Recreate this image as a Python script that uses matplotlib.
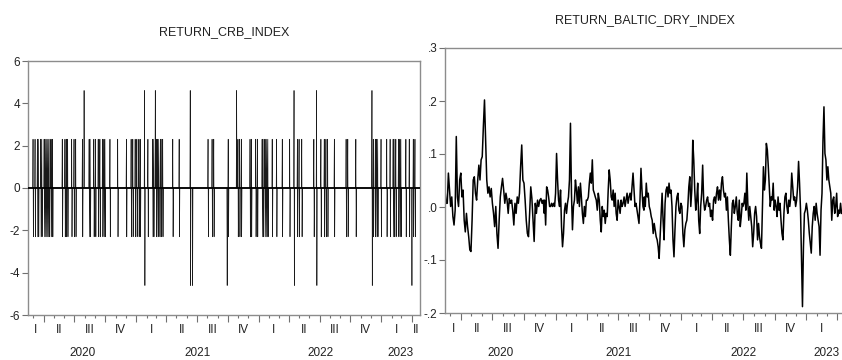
import numpy as np
import pandas as pd
import matplotlib
matplotlib.use("Agg")
import matplotlib.pyplot as plt
import matplotlib.dates as mdates

plt.rcParams['font.family'] = ['Liberation Sans', 'DejaVu Sans']

# ---- data -------------------------------------------------------------
start = pd.Timestamp("2020-02-14")
end = pd.Timestamp("2023-04-26")

# RETURN_CRB_INDEX: flat at 0 with jumps (days counted from start)
crb_pair_days = [15, 21, 28, 31, 38, 41, 48, 51, 54, 57, 60, 63, 68, 71, 73,
                 102, 110, 114, 118, 130, 137, 142, 162, 182, 185, 196, 201,
                 209, 214, 222, 226, 229, 244, 267, 293, 307, 312, 319, 324,
                 330, 334, 357, 371, 374, 382, 386, 389, 394, 397, 401, 431,
                 450, 536, 548, 553, 596, 625, 630, 635, 661, 665, 678, 683,
                 697, 700, 705, 708, 711, 714, 727, 740, 757, 779, 802, 807,
                 815, 851, 872, 882, 887, 892, 912, 947, 952, 976, 1028, 1034,
                 1038, 1041, 1051, 1068, 1078, 1087, 1090, 1095, 1103, 1107,
                 1110, 1125, 1135, 1147, 1152]
crb_big_pair_days = [347, 483, 792, 859, 1024]
crb_big_up_days = [167, 379, 621]
crb_big_down_days = [490, 593, 1143]
crb_small = 2.303
crb_big = 4.605

# RETURN_BALTIC_DRY_INDEX, read in four stretches
baltic_seg_dates = [("2020-02-14", "2020-11-29"), ("2020-11-30", "2021-09-15"),
                    ("2021-09-16", "2022-06-28"), ("2022-06-30", "2023-04-13")]
baltic_seg1 = [0.032, 0.007, 0.007, 0.064, 0.032, 0.001, 0.019, -0.018, -0.034,
               -0.006, 0.133, 0.019, 0.001, 0.051, 0.064, 0.019, 0.032, -0.025,
               -0.047, -0.012, -0.037, -0.056, -0.081, -0.084, -0.025, 0.051,
               0.057, 0.026, 0.013, 0.051, 0.079, 0.051, 0.089, 0.095, 0.152,
               0.202, 0.126, 0.051, 0.026, 0.038, 0.019, 0.035, 0.007, -0.012,
               -0.037, 0.001, -0.050, -0.078, -0.025, 0.019, 0.038, 0.054,
               0.032, 0.007, 0.026, 0.013, -0.012, 0.016, 0.007, 0.013, -0.006,
               -0.034, 0.007, -0.012, 0.019, 0.007, 0.026, 0.076, 0.117, 0.051,
               0.045, 0.013, -0.025, -0.050, -0.056, -0.012, 0.038, 0.016,
               -0.025, -0.065, 0.007, -0.012, 0.013, 0.001, 0.013, 0.016,
               0.007, 0.013, -0.012]
baltic_seg2 = [0.013, -0.034, 0.038, 0.032, 0.019, 0.001, 0.001, 0.007, 0.001,
               0.007, 0.001, 0.026, 0.101, 0.051, 0.013, 0.001, 0.032, -0.037,
               -0.075, -0.050, -0.006, 0.007, -0.012, 0.007, 0.019, 0.051,
               0.158, 0.026, -0.043, 0.001, 0.013, 0.051, 0.032, 0.007, 0.038,
               0.001, 0.045, 0.019, -0.012, -0.031, 0.001, -0.018, 0.013, 0.013,
               0.019, 0.045, 0.064, 0.045, 0.089, 0.032, 0.026, 0.019, 0.013,
               -0.006, 0.026, 0.013, -0.025, -0.047, 0.001, -0.018, -0.006,
               -0.031, -0.012, -0.018, 0.032, 0.070, 0.051, 0.019, 0.013, 0.032,
               0.001, 0.026, -0.012, -0.025, 0.013, 0.001, -0.012, 0.013, 0.001,
               0.007, 0.019, 0.001, 0.013, 0.026, 0.007, 0.019, 0.026, 0.013,
               0.038, 0.064, 0.032, 0.001, 0.007, -0.006, -0.018, -0.031, 0.013,
               0.073, 0.032, 0.001, -0.006]
baltic_seg3 = [0.019, 0.001, 0.045, 0.019, 0.026, 0.001, -0.006, -0.018, -0.025,
               -0.050, -0.031, -0.043, -0.056, -0.062, -0.075, -0.097, -0.056,
               -0.012, 0.026, -0.025, -0.062, 0.007, 0.032, 0.038, 0.019, 0.045,
               0.026, 0.032, 0.001, -0.062, -0.094, -0.043, 0.001, 0.019, 0.026,
               -0.006, -0.012, 0.007, 0.001, -0.050, -0.075, -0.043, -0.031,
               -0.025, 0.001, 0.038, 0.057, 0.001, 0.032, 0.126, 0.089, 0.032,
               -0.006, 0.013, 0.045, -0.025, -0.050, 0.001, 0.026, 0.079, 0.013,
               -0.006, 0.001, 0.013, 0.019, 0.001, 0.007, -0.018, -0.006, -0.025,
               0.013, 0.019, 0.007, 0.026, 0.038, 0.013, 0.032, 0.013, 0.045,
               0.057, 0.032, 0.019, 0.026, -0.006, 0.019, -0.025, -0.062, -0.091,
               -0.037, 0.007, 0.013, -0.012, 0.001, 0.019, -0.012, -0.025, 0.013,
               -0.037, -0.018, 0.007]
baltic_seg4 = [0.001, 0.007, 0.026, -0.006, 0.064, 0.007, -0.025, 0.001, -0.018,
               -0.037, -0.075, -0.050, -0.012, 0.001, -0.018, -0.062, -0.031,
               -0.056, -0.069, -0.078, 0.001, 0.076, 0.032, 0.051, 0.120, 0.108,
               0.076, 0.038, 0.001, 0.019, 0.013, 0.045, -0.006, 0.013, 0.001,
               -0.018, 0.019, -0.006, 0.007, -0.025, -0.050, -0.062, -0.012,
               0.019, 0.026, 0.001, -0.012, 0.013, 0.001, 0.019, 0.064, 0.038,
               0.013, 0.019, 0.001, 0.013, 0.038, 0.086, 0.045, -0.006, -0.100,
               -0.188, -0.075, -0.012, -0.006, 0.007, -0.006, -0.025, -0.050,
               -0.069, -0.087, -0.037, -0.012, 0.001, -0.025, 0.007, -0.012,
               -0.025, -0.037, -0.091, -0.006, 0.026, 0.126, 0.189, 0.101, 0.089,
               0.051, 0.076, 0.051, 0.038, 0.026, -0.025, 0.013, 0.019, -0.012,
               0.001, 0.026, -0.018, -0.006, -0.012, 0.007, -0.012]

crb_yticks = [-6, -4, -2, 0, 2, 4, 6]
crb_ylabels = ["-6", "-4", "-2", "0", "2", "4", "6"]
baltic_yticks = [-0.2, -0.1, 0.0, 0.1, 0.2, 0.3]
baltic_ylabels = ["-.2", "-.1", ".0", ".1", ".2", ".3"]
quarter_names = ["I", "II", "III", "IV"]

# ---- build series -----------------------------------------------------
crb = pd.Series(0.0, index=pd.date_range(start, end, freq="D"))
for d in crb_pair_days:
    crb.iloc[d] = crb_small
    crb.iloc[d + 1] = -crb_small
for d in crb_big_pair_days:
    crb.iloc[d] = crb_big
    crb.iloc[d + 1] = -crb_big
for d in crb_big_up_days:
    crb.iloc[d] = crb_big
for d in crb_big_down_days:
    crb.iloc[d] = -crb_big

baltic_parts = []
for (a, b), vals in zip(baltic_seg_dates, [baltic_seg1, baltic_seg2, baltic_seg3, baltic_seg4]):
    idx = pd.date_range(a, b, periods=len(vals))
    baltic_parts.append(pd.Series(vals, index=idx))
baltic = pd.concat(baltic_parts)

# ---- plotting ---------------------------------------------------------
W, H = 842, 360
fig = plt.figure(figsize=(W / 100, H / 100), dpi=100)

ax1 = fig.add_axes([28 / W, 1 - 315 / H, (420 - 28) / W, (315 - 61) / H])
ax2 = fig.add_axes([445 / W, 1 - 313 / H, (846 - 445) / W, (313 - 48) / H])

ax1.plot(crb.index, crb.values, color="#1a1a1a", lw=0.5)
ax1.axhline(0, color="black", lw=1.3, zorder=3)
ax2.plot(baltic.index, baltic.values, color="black", lw=1.1)

ax1.set_ylim(-6, 6)
ax1.set_yticks(crb_yticks)
ax1.set_yticklabels(crb_ylabels)
ax2.set_ylim(-0.2, 0.3)
ax2.set_yticks(baltic_yticks)
ax2.set_yticklabels(baltic_ylabels)


def style_axis(ax, label_until, qdy, ydy):
    ax.set_xlim(start, end)
    for s in ax.spines.values():
        s.set_color("#8c8c8c")
        s.set_linewidth(1.0)
    ax.xaxis.set_major_locator(mdates.MonthLocator(bymonth=[1, 4, 7, 10]))
    ax.xaxis.set_minor_locator(mdates.MonthLocator())
    ax.xaxis.set_major_formatter(plt.NullFormatter())
    ax.tick_params(axis="x", which="major", length=5, width=0.8, color="#707070")
    ax.tick_params(axis="x", which="minor", length=2.5, width=0.8, color="#707070")
    ax.tick_params(axis="y", length=4, width=0.8, color="#707070", pad=1.5,
                   labelsize=8.5, labelcolor="#222222")
    x0, x1 = mdates.date2num(start), mdates.date2num(end)
    # quarter labels
    for q in pd.date_range("2020-01-01", "2023-04-01", freq="QS"):
        qa = max(mdates.date2num(q), x0)
        qb = min(mdates.date2num(q + pd.offsets.QuarterBegin(startingMonth=1)), x1)
        if qb - qa < 20 or q > label_until:
            continue
        ax.annotate(quarter_names[(q.month - 1) // 3], xy=((qa + qb) / 2, 0),
                    xycoords=("data", "axes fraction"), xytext=(0, qdy),
                    textcoords="offset points", ha="center", va="center",
                    fontsize=8.5, color="#222222", annotation_clip=False)
    # year labels
    for yr in [2020, 2021, 2022, 2023]:
        ya = max(mdates.date2num(pd.Timestamp(f"{yr}-01-01")), x0)
        yb = min(mdates.date2num(pd.Timestamp(f"{yr + 1}-01-01")), x1)
        ax.annotate(str(yr), xy=((ya + yb) / 2, 0),
                    xycoords=("data", "axes fraction"), xytext=(0, ydy),
                    textcoords="offset points", ha="center", va="center",
                    fontsize=8.5, color="#222222", annotation_clip=False)


style_axis(ax1, pd.Timestamp("2023-04-01"), -11.0, -27.5)
style_axis(ax2, pd.Timestamp("2023-01-01"), -11.5, -28.5)

fig.text(224 / W, 1 - 32 / H, "RETURN_CRB_INDEX", ha="center", va="center",
         fontsize=9, color="#222222")
fig.text(645 / W, 1 - 20 / H, "RETURN_BALTIC_DRY_INDEX", ha="center", va="center",
         fontsize=9, color="#222222")

fig.savefig("out.png", dpi=100)
